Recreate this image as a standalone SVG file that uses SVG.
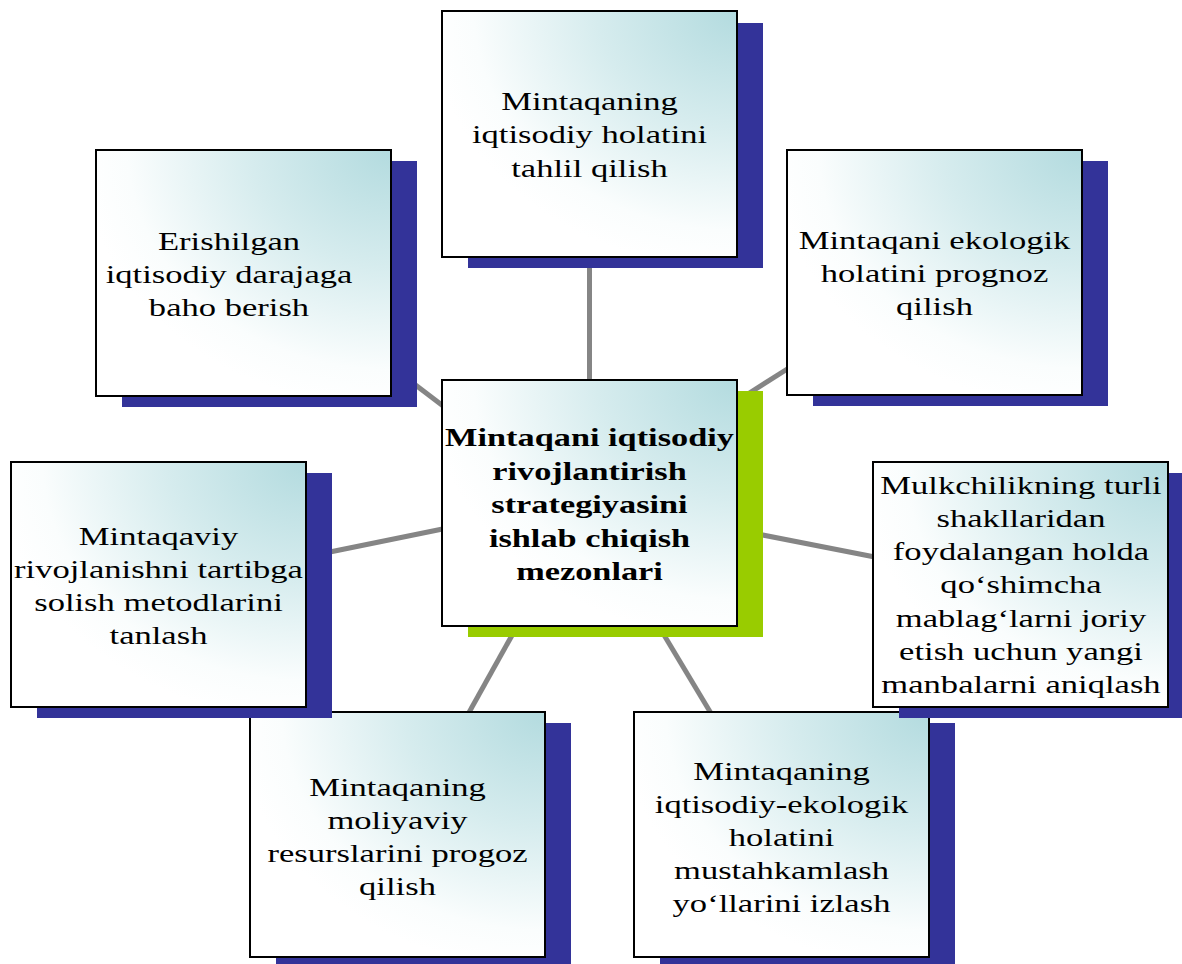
<svg xmlns="http://www.w3.org/2000/svg" width="1182" height="964" viewBox="0 0 1182 964">
<defs>
<radialGradient id="fill" cx="1" cy="0" r="1.05" fx="1" fy="0">
<stop offset="0" stop-color="#B3DBDF"/>
<stop offset="0.45" stop-color="#D6ECEE"/>
<stop offset="0.85" stop-color="#FAFDFD"/>
<stop offset="1" stop-color="#FFFFFF"/>
</radialGradient>
</defs>
<style>
.bg{fill:#FFFFFF}
.sh{fill:#333399}
.shg{fill:#99CC00}
.box{fill:url(#fill);stroke:#000000;stroke-width:2}
.t{font-family:"Liberation Serif","Times New Roman",serif;font-size:26px;fill:#000000;text-anchor:middle}
.b{font-weight:bold}
.c{stroke:#858585;stroke-width:5;fill:none}
</style>
<rect class="bg" x="0" y="0" width="1182" height="964"/>
<g id="connectors">
<line class="c" x1="589.5" y1="250" x2="589.5" y2="390"/>
<line class="c" x1="380" y1="358" x2="480" y2="434"/>
<line class="c" x1="740" y1="399" x2="800" y2="361"/>
<line class="c" x1="320" y1="554" x2="450" y2="527.5"/>
<line class="c" x1="750" y1="532.5" x2="885" y2="559"/>
<line class="c" x1="462" y1="725" x2="525" y2="612"/>
<line class="c" x1="655" y1="620" x2="718" y2="725"/>
</g>
<g id="node-top">
<rect class="sh" x="468" y="23" width="295" height="245"/>
<rect class="box" x="442" y="11" width="295" height="246"/>
<text class="t" transform="translate(589.5 0) scale(1.33 1)"><tspan x="0" y="110">Mintaqaning</tspan><tspan x="0" y="143.5">iqtisodiy holatini</tspan><tspan x="0" y="177">tahlil qilish</tspan></text>
</g>
<g id="node-topleft">
<rect class="sh" x="122" y="161" width="295" height="246"/>
<rect class="box" x="96" y="150" width="295" height="246"/>
<text class="t" transform="translate(229 0) scale(1.33 1)"><tspan x="0" y="250">Erishilgan</tspan><tspan x="0" y="283">iqtisodiy darajaga</tspan><tspan x="0" y="316">baho berish</tspan></text>
</g>
<g id="node-topright">
<rect class="sh" x="813" y="161" width="295" height="245"/>
<rect class="box" x="787" y="150" width="295" height="245"/>
<text class="t" transform="translate(934.5 0) scale(1.33 1)"><tspan x="0" y="249">Mintaqani ekologik</tspan><tspan x="0" y="282">holatini prognoz</tspan><tspan x="0" y="315">qilish</tspan></text>
</g>
<g id="node-center">
<rect class="shg" x="468" y="391" width="295" height="246"/>
<rect class="box" x="442" y="380" width="295" height="246"/>
<text class="t b" transform="translate(589.5 0) scale(1.32 1)"><tspan x="0" y="446">Mintaqani iqtisodiy</tspan><tspan x="0" y="480">rivojlantirish</tspan><tspan x="0" y="513">strategiyasini</tspan><tspan x="0" y="547">ishlab chiqish</tspan><tspan x="0" y="580">mezonlari</tspan></text>
</g>
<g id="node-bottomleft">
<rect class="sh" x="276" y="723" width="295" height="245"/>
<rect class="box" x="250" y="712" width="295" height="245"/>
<text class="t" transform="translate(397.5 0) scale(1.33 1)"><tspan x="0" y="796">Mintaqaning</tspan><tspan x="0" y="829">moliyaviy</tspan><tspan x="0" y="862">resurslarini progoz</tspan><tspan x="0" y="895">qilish</tspan></text>
</g>
<g id="node-bottomright">
<rect class="sh" x="660" y="723" width="295" height="245"/>
<rect class="box" x="634" y="712" width="295" height="245"/>
<text class="t" transform="translate(781.5 0) scale(1.33 1)"><tspan x="0" y="780">Mintaqaning</tspan><tspan x="0" y="813">iqtisodiy-ekologik</tspan><tspan x="0" y="846">holatini</tspan><tspan x="0" y="879">mustahkamlash</tspan><tspan x="0" y="912">yo‘llarini izlash</tspan></text>
</g>
<g id="node-left">
<rect class="sh" x="37" y="473" width="295" height="245"/>
<rect class="box" x="11" y="462" width="295" height="245"/>
<text class="t" transform="translate(158.5 0) scale(1.33 1)"><tspan x="0" y="545">Mintaqaviy</tspan><tspan x="0" y="578">rivojlanishni tartibga</tspan><tspan x="0" y="611">solish metodlarini</tspan><tspan x="0" y="644">tanlash</tspan></text>
</g>
<g id="node-right">
<rect class="sh" x="899" y="473" width="295" height="245"/>
<rect class="box" x="873" y="462" width="295" height="245"/>
<text class="t" transform="translate(1021 0) scale(1.33 1)"><tspan x="0" y="494">Mulkchilikning turli</tspan><tspan x="0" y="527">shakllaridan</tspan><tspan x="0" y="560">foydalangan holda</tspan><tspan x="0" y="593">qo‘shimcha</tspan><tspan x="0" y="627">mablag‘larni joriy</tspan><tspan x="0" y="660">etish uchun yangi</tspan><tspan x="0" y="693">manbalarni aniqlash</tspan></text>
</g>
</svg>
